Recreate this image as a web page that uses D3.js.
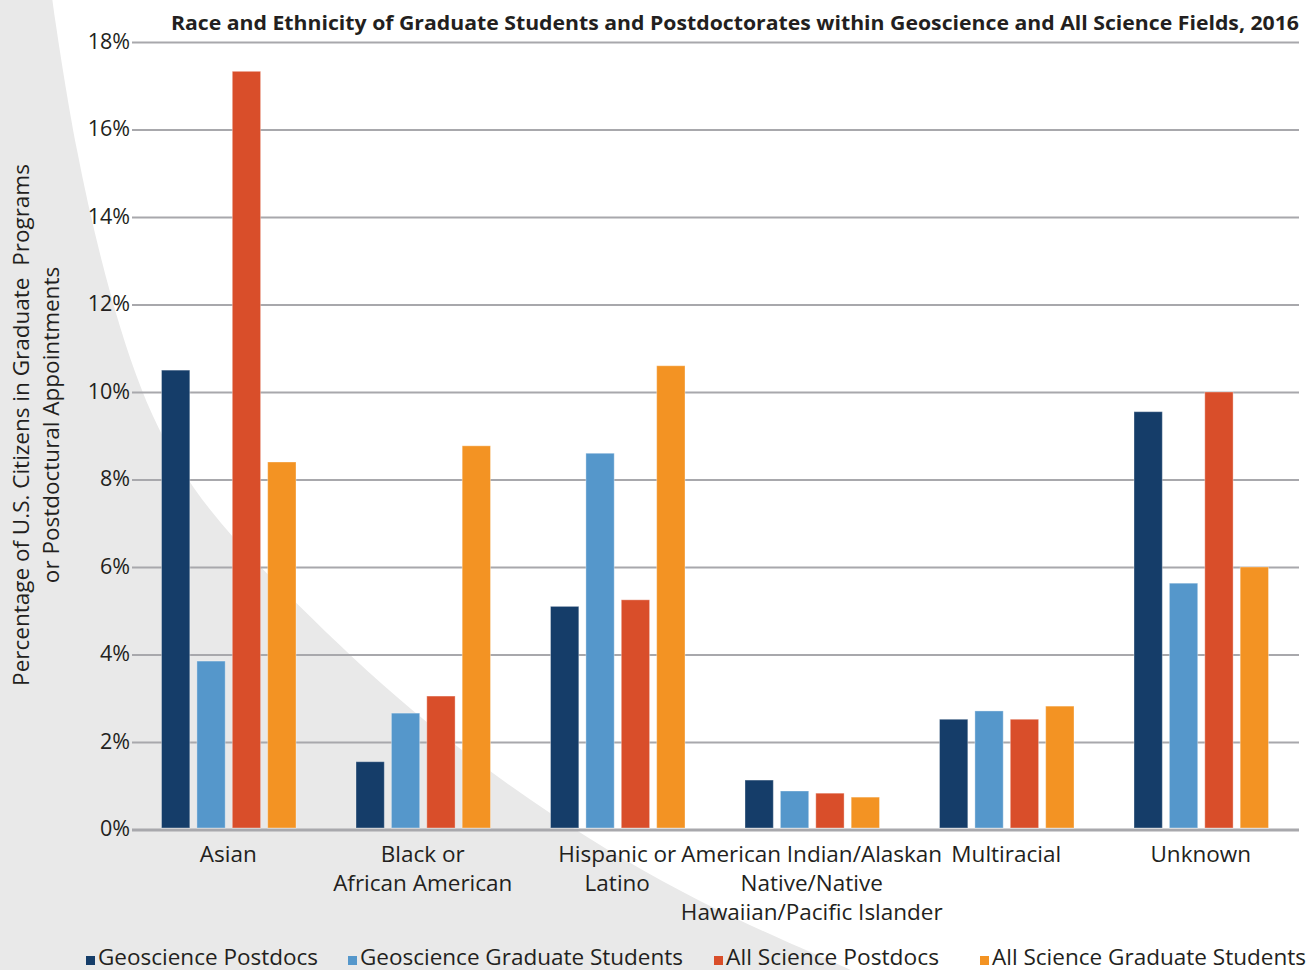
<!DOCTYPE html>
<head>
<meta charset="utf-8">
<style>
body { margin: 0; background: #fff; }
svg { display: block; }
text { font-family: "Open Sans", "Noto Sans", sans-serif; fill: #231f20; }
.grid line { stroke: #a8a8ac; stroke-width: 2px; }
.tick text { font-size: 21.5px; }
</style>
</head>
<body>
<script src="https://d3js.org/d3.v7.min.js"></script>
<script>
  // data (percent)
  var categories = ["Asian", "Black or African American", "Hispanic or Latino",
                    "American Indian/Alaskan Native/Native Hawaiian/Pacific Islander",
                    "Multiracial", "Unknown"];
  var categoryLines = [["Asian"], ["Black or", "African American"], ["Hispanic or", "Latino"],
                       ["American Indian/Alaskan", "Native/Native", "Hawaiian/Pacific Islander"],
                       ["Multiracial"], ["Unknown"]];
  var seriesNames = ["Geoscience Postdocs", "Geoscience Graduate Students",
                     "All Science Postdocs", "All Science Graduate Students"];
  var geoPostdocs  = [10.5, 1.55, 5.1, 1.13, 2.52, 9.55];
  var geoGrads     = [3.85, 2.66, 8.6, 0.88, 2.71, 5.63];
  var allPostdocs  = [17.33, 3.05, 5.25, 0.83, 2.52, 10.0];
  var allGrads     = [8.4, 8.77, 10.6, 0.74, 2.82, 6.0];
  var yTicks = [0, 2, 4, 6, 8, 10, 12, 14, 16, 18];
  var colors = ["#153d69", "#5597cb", "#d94e2a", "#f39323"];

  var series = [geoPostdocs, geoGrads, allPostdocs, allGrads];

  var W = 1310, H = 970;
  var plotLeft = 132, plotRight = 1299, plotTop = 42, plotBottom = 829.5;

  var svg = d3.select("body").append("svg")
      .attr("width", W)
      .attr("height", H);

  // grey swoosh in the background
  var swoosh = [[52,-5],[52,0],[75,150],[110,300],[150,420],[205,510],[295,603],
                [407,710],[550,817],[700,905],[853,970],[870,980]];
  var swooshLine = d3.line().curve(d3.curveBasis);
  svg.append("path")
      .attr("d", swooshLine(swoosh) + "L0,980L0,-5Z")
      .style("fill", "#e9e9e9");

  // scales
  var x0 = d3.scaleBand().domain(categories).range([plotLeft, plotRight]);
  var x1 = d3.scaleBand().domain(seriesNames).range([29.5, 164]).paddingInner(0.2);
  var y = d3.scaleLinear().domain([0, 18]).range([plotBottom, plotTop]);

  // y axis with grid lines
  var yAxis = d3.axisLeft(y)
      .tickValues(yTicks)
      .tickSize(-(plotRight - plotLeft))
      .tickPadding(2)
      .tickFormat(function (d) { return d + "%"; });

  var gy = svg.append("g")
      .attr("class", "grid")
      .attr("transform", "translate(" + plotLeft + ",0)")
      .call(yAxis);
  gy.select(".domain").remove();
  gy.selectAll(".tick text").attr("dy", "0.3em");
  gy.selectAll(".tick")
    .filter(function (d) { return d === 0; })
    .select("line")
      .style("stroke-width", "3px");

  // bars
  var groups = svg.append("g").selectAll("g")
    .data(categories)
    .enter().append("g")
      .attr("transform", function (d) { return "translate(" + x0(d) + ",0)"; });

  groups.selectAll("rect")
    .data(function (d, i) {
      return series.map(function (s, j) { return { key: seriesNames[j], value: s[i], c: colors[j] }; });
    })
    .enter().append("rect")
      .attr("x", function (d) { return x1(d.key); })
      .attr("width", x1.bandwidth())
      .attr("y", function (d) { return y(d.value); })
      .attr("height", function (d) { return plotBottom - 1.5 - y(d.value); })
      .style("fill", function (d) { return d.c; })
      .style("stroke", "rgba(255,255,255,0.35)")
      .style("stroke-width", 1);

  // category labels
  var labels = svg.append("g").selectAll("text")
    .data(categories)
    .enter().append("text")
      .attr("x", function (d) { return x0(d) + x0.bandwidth() / 2 - 1; })
      .attr("y", 862)
      .style("text-anchor", "middle")
      .style("font-size", "22.5px");
  labels.each(function (d, i) {
    var t = d3.select(this);
    categoryLines[i].forEach(function (line, k) {
      t.append("tspan")
        .attr("x", t.attr("x"))
        .attr("dy", k === 0 ? 0 : 29)
        .text(line);
    });
  });

  // title
  svg.append("text")
      .attr("x", 171)
      .attr("y", 30)
      .attr("textLength", 1128)
      .attr("lengthAdjust", "spacingAndGlyphs")
      .style("font-size", "19px")
      .style("font-weight", "bold")
      .text("Race and Ethnicity of Graduate Students and Postdoctorates within Geoscience and All Science Fields, 2016");

  // y axis title
  var yTitle = svg.append("text")
      .attr("transform", "translate(29,425) rotate(-90)")
      .style("text-anchor", "middle")
      .style("font-size", "22.5px");
  yTitle.append("tspan").attr("x", 0).attr("dy", 0)
      .attr("xml:space", "preserve")
      .text("Percentage of U.S. Citizens in Graduate  Programs");
  yTitle.append("tspan").attr("x", 0).attr("dy", 30)
      .text("or Postdoctural  Appointments");

  // legend
  var legendX = [86, 348, 714, 980];
  var legendW = [220, 323, 213, 314];
  var legend = svg.append("g").selectAll("g")
    .data(seriesNames)
    .enter().append("g")
      .attr("transform", function (d, i) { return "translate(" + legendX[i] + ",0)"; });
  legend.append("rect")
      .attr("x", 0).attr("y", 956)
      .attr("width", 9).attr("height", 9)
      .style("fill", function (d, i) { return colors[i]; });
  legend.append("text")
      .attr("x", 12)
      .attr("y", 965)
      .attr("textLength", function (d, i) { return legendW[i]; })
      .attr("lengthAdjust", "spacingAndGlyphs")
      .style("font-size", "21px")
      .text(function (d) { return d; });
</script>
</body>
